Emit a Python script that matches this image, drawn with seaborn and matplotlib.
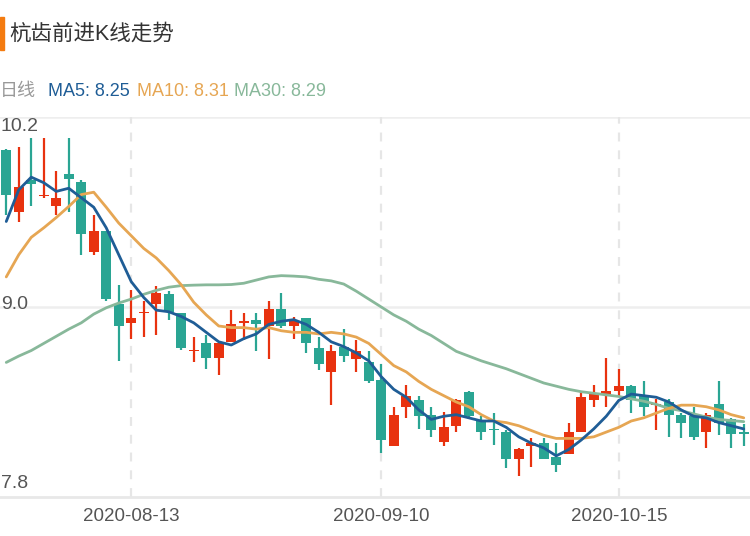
import numpy as np
import pandas as pd
import matplotlib
matplotlib.use("Agg")
import matplotlib.pyplot as plt
import matplotlib.transforms as mtransforms
from matplotlib.patches import Rectangle
import seaborn as sns

sns.set_theme(style="white")
plt.rcParams['font.family'] = ['Liberation Sans', 'Noto Sans CJK SC', 'DejaVu Sans']
plt.rcParams['axes.unicode_minus'] = False

# trading days 2020-07-30 .. 2020-10-29 (national day holiday closed)
holidays = pd.date_range('2020-10-01', '2020-10-08')
dates = [d for d in pd.bdate_range('2020-07-30', '2020-10-29') if d not in holidays]
dates = [d.strftime('%Y-%m-%d') for d in dates]

opens = [9.99, 9.60, 9.80, 9.70, 9.64, 9.84, 9.79, 9.35, 9.48, 9.02,
         8.90, 8.96, 9.02, 9.08, 8.96, 8.72, 8.77, 8.68, 8.78, 8.90,
         8.92, 8.88, 8.99, 8.88, 8.93, 8.74, 8.59, 8.75, 8.67, 8.65,
         8.54, 8.12, 8.37, 8.41, 8.32, 8.15, 8.25, 8.46, 8.28, 8.23,
         8.21, 8.04, 8.12, 8.14, 8.05, 8.07, 8.21, 8.41, 8.45, 8.47,
         8.50, 8.44, 8.38, 8.40, 8.32, 8.31, 8.21, 8.39, 8.29, 8.21]
closes = [9.71, 9.76, 9.78, 9.71, 9.69, 9.81, 9.46, 9.48, 9.05, 8.88,
          8.93, 8.97, 9.09, 8.97, 8.74, 8.73, 8.68, 8.77, 8.89, 8.91,
          8.89, 8.99, 8.88, 8.91, 8.77, 8.64, 8.72, 8.69, 8.72, 8.53,
          8.16, 8.32, 8.44, 8.31, 8.22, 8.24, 8.41, 8.31, 8.21, 8.22,
          8.04, 8.10, 8.14, 8.04, 8.00, 8.21, 8.43, 8.45, 8.47, 8.50,
          8.41, 8.37, 8.39, 8.32, 8.27, 8.18, 8.32, 8.27, 8.20, 8.20]
highs = [10.00, 10.01, 10.07, 10.07, 9.86, 10.07, 9.80, 9.58, 9.48, 9.14,
         9.11, 9.04, 9.13, 9.10, 8.96, 8.81, 8.82, 8.77, 8.98, 8.96,
         8.96, 9.04, 9.09, 8.94, 8.93, 8.81, 8.76, 8.86, 8.79, 8.72,
         8.64, 8.37, 8.51, 8.44, 8.37, 8.34, 8.42, 8.47, 8.31, 8.33,
         8.22, 8.11, 8.17, 8.17, 8.14, 8.27, 8.46, 8.51, 8.68, 8.61,
         8.51, 8.53, 8.42, 8.42, 8.33, 8.37, 8.33, 8.53, 8.30, 8.26]
lows = [9.58, 9.54, 9.64, 9.69, 9.58, 9.60, 9.33, 9.33, 9.04, 8.66,
        8.80, 8.81, 8.82, 8.92, 8.73, 8.65, 8.61, 8.57, 8.78, 8.79,
        8.72, 8.67, 8.87, 8.80, 8.71, 8.60, 8.38, 8.65, 8.59, 8.52,
        8.08, 8.12, 8.30, 8.23, 8.18, 8.12, 8.21, 8.29, 8.16, 8.13,
        7.98, 7.93, 7.99, 8.04, 7.96, 8.07, 8.21, 8.37, 8.37, 8.44,
        8.33, 8.31, 8.22, 8.18, 8.17, 8.16, 8.11, 8.19, 8.11, 8.12]

ma5 = [9.54, 9.74, 9.82, 9.785, 9.73, 9.75, 9.69, 9.63, 9.50, 9.33,
       9.16, 9.06, 8.98, 8.97, 8.94, 8.90, 8.84, 8.78, 8.76, 8.80,
       8.83, 8.89, 8.91, 8.92, 8.89, 8.84, 8.78, 8.75, 8.71, 8.66,
       8.56, 8.48, 8.43, 8.35, 8.29, 8.31, 8.32, 8.30, 8.28, 8.28,
       8.24, 8.18, 8.14, 8.11, 8.06, 8.10, 8.16, 8.23, 8.31, 8.41,
       8.45, 8.44, 8.43, 8.40, 8.35, 8.31, 8.30, 8.27, 8.25, 8.23]
ma10 = [9.19, 9.33, 9.44, 9.50, 9.565, 9.635, 9.71, 9.725, 9.63, 9.53,
        9.45, 9.37, 9.31, 9.23, 9.14, 9.03, 8.95, 8.88, 8.87, 8.87,
        8.86, 8.87, 8.85, 8.84, 8.84, 8.83, 8.84, 8.83, 8.81, 8.77,
        8.70, 8.63, 8.59, 8.53, 8.48, 8.44, 8.40, 8.37, 8.32, 8.28,
        8.27, 8.25, 8.22, 8.19, 8.17, 8.17, 8.17, 8.18, 8.21, 8.24,
        8.28, 8.30, 8.33, 8.36, 8.38, 8.38, 8.37, 8.35, 8.32, 8.30]
ma30 = [8.65, 8.69, 8.725, 8.77, 8.815, 8.86, 8.90, 8.955, 8.995, 9.025,
        9.05, 9.08, 9.105, 9.125, 9.135, 9.138, 9.14, 9.14, 9.142, 9.15,
        9.17, 9.19, 9.198, 9.195, 9.19, 9.175, 9.165, 9.145, 9.10, 9.05,
        9.00, 8.95, 8.91, 8.86, 8.82, 8.77, 8.72, 8.69, 8.66, 8.635,
        8.61, 8.58, 8.55, 8.52, 8.50, 8.48, 8.465, 8.455, 8.445, 8.435,
        8.42, 8.405, 8.385, 8.36, 8.345, 8.325, 8.305, 8.29, 8.283, 8.276]

y_ticks = [7.8, 9.0, 10.2]
y_labels = ['7.8', '9.0', '10.2']
x_tick_labels = ['2020-08-13', '2020-09-10', '2020-10-15']

title = '杭齿前进K线走势'
legend_items = [('日线', '#999999'), ('MA5: 8.25', '#1f5d96'),
                ('MA10: 8.31', '#e6a653'), ('MA30: 8.29', '#88b89a')]

RED = '#e8320f'
TEAL = '#2aa593'

df = pd.DataFrame({'date': dates, 'open': opens, 'close': closes, 'high': highs,
                   'low': lows, 'ma5': ma5, 'ma10': ma10, 'ma30': ma30})
df['x'] = np.arange(len(df))
df['color'] = np.where(df['close'] >= df['open'], RED, TEAL)

W, H = 750, 536
fig = plt.figure(figsize=(W / 100, H / 100), dpi=100)
ax = fig.add_axes([0, (H - 497) / H, 1, 380 / H])

# wicks and bodies
ax.vlines(df['x'], df['low'], df['high'], colors=df['color'], lw=1.6, zorder=2)
body_h = np.maximum((df['close'] - df['open']).abs(), 0.01)
body_b = np.minimum(df['open'], df['close'])
ax.bar(df['x'], body_h, bottom=body_b, width=0.82, color=df['color'], lw=0, zorder=3)

# moving averages
sns.lineplot(data=df, x='x', y='ma30', color=legend_items[3][1], lw=2, ax=ax, zorder=4)
sns.lineplot(data=df, x='x', y='ma10', color=legend_items[2][1], lw=2, ax=ax, zorder=5)
sns.lineplot(data=df, x='x', y='ma5', color=legend_items[1][1], lw=2, ax=ax, zorder=6)

ax.set_xlim(-0.5, len(df) - 0.5)
ax.set_ylim(y_ticks[0], y_ticks[-1])

# grid
for v in y_ticks[1:]:
    ax.axhline(v, color='#eeeeee', lw=1.8, zorder=1)
tick_pos = [dates.index(d) for d in x_tick_labels]
for p in tick_pos:
    ax.axvline(p, color='#e6e6e6', lw=1.6, ls=(0, (4, 4)), zorder=1)

for s in ['top', 'left', 'right']:
    ax.spines[s].set_visible(False)
ax.spines['bottom'].set_color('#e8e8e8')
ax.spines['bottom'].set_linewidth(2)

ax.set_yticks([])
ax.set_xticks(tick_pos)
ax.set_xticklabels(x_tick_labels, fontsize=13.5, color='#555555')
ax.tick_params(axis='x', length=0, pad=8)
ax.set_xlabel('')
ax.set_ylabel('')

# inside y labels
trans = mtransforms.blended_transform_factory(ax.transAxes, ax.transData)
offs = [mtransforms.offset_copy(trans, fig=fig, x=1, y=5, units='dots'),
        mtransforms.offset_copy(trans, fig=fig, x=1, y=2, units='dots'),
        mtransforms.offset_copy(trans, fig=fig, x=1, y=-1, units='dots')]
vas = ['bottom', 'center', 'top']
for v, lab, tr, va in zip(y_ticks, y_labels, offs, vas):
    ax.text(0, v, lab, transform=tr, ha='left', va=va, fontsize=14, color='#555555', zorder=7)

# title with orange marker
fig.patches.append(Rectangle((0, 1 - 50 / H), 4 / W, 33 / H, transform=fig.transFigure,
                             color='#f47b10', figure=fig))
fig.text(9 / W, 1 - 34 / H, title, fontsize=15.5, color='#333333', ha='left', va='center')

# MA legend row
x_starts = [0, 48, 137, 234]
for (txt, col), xs in zip(legend_items, x_starts):
    fig.text(xs / W, 1 - 92 / H, txt, fontsize=13, color=col, ha='left', va='center')

fig.savefig('out.png', dpi=100)
